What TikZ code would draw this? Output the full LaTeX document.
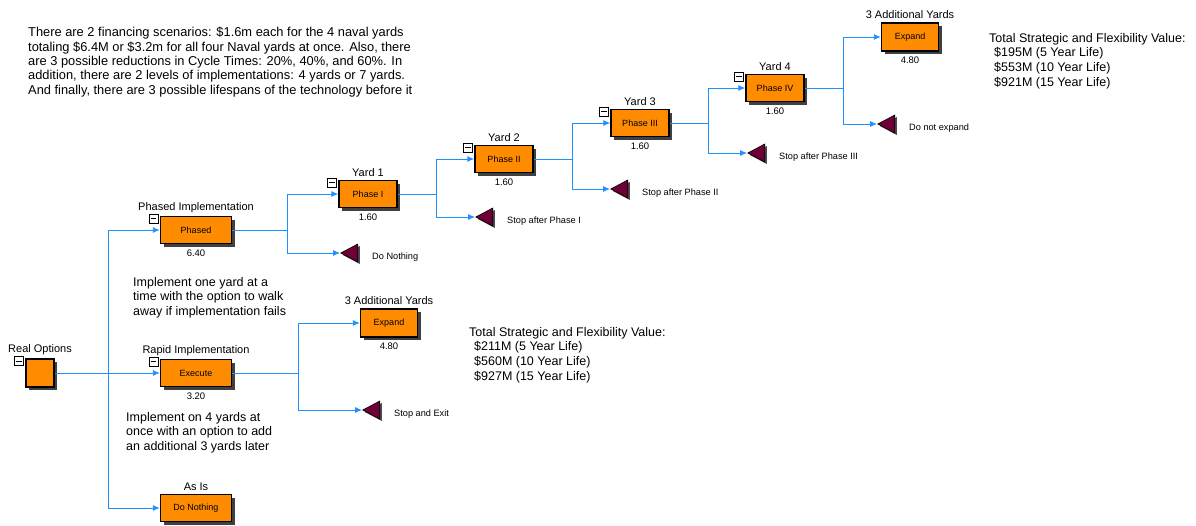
\documentclass[tikz,border=0pt]{standalone}
\usepackage{fontspec}
\setmainfont{Liberation Sans}
\usetikzlibrary{positioning,shapes.geometric,shadows,arrows.meta}

\definecolor{boxorange}{RGB}{255,140,0}
\definecolor{endmaroon}{RGB}{110,0,55}
\definecolor{linkblue}{RGB}{30,144,255}

\tikzset{
  decision/.style={draw=black, line width=1.4pt, fill=boxorange, minimum height=27pt,
    inner sep=0pt, font=\fontsize{9}{10}\selectfont,
    drop shadow={shadow xshift=3pt, shadow yshift=-3pt, fill=black!75, opacity=1}},
  terminal/.style={isosceles triangle, isosceles triangle stretches, shape border rotate=180,
    minimum width=18pt, minimum height=17pt, inner sep=0pt, anchor=apex,
    draw=black, line width=0.6pt, fill=endmaroon,
    drop shadow={shadow xshift=2pt, shadow yshift=-2pt, fill=black!70, opacity=1}},
  collapse/.style={draw=black, line width=0.5pt, fill=white, minimum size=9pt, inner sep=0pt,
    path picture={\draw[line width=0.6pt] ([xshift=1.8pt]path picture bounding box.west)
      -- ([xshift=-1.8pt]path picture bounding box.east);}},
  branch/.style={draw=linkblue, line width=0.9pt, -{Latex[length=7pt,width=6pt]}},
  stage/.style={font=\fontsize{11}{12}\selectfont, inner sep=1pt},
  value/.style={font=\fontsize{9.5}{11}\selectfont, inner sep=1pt},
  endtext/.style={font=\fontsize{9.2}{10}\selectfont, anchor=west, inner sep=0pt},
  note/.style={align=left, anchor=north west, inner sep=0pt, font=\fontsize{12.5}{14.6}\selectfont}
}

\begin{document}
\begin{tikzpicture}[x=1pt,y=-1pt]
\useasboundingbox (0,0) rectangle (1196,525);

% decision boxes
\node[decision, minimum width=28pt, minimum height=28pt] (root) at (40,373) {};
\node[decision, minimum width=71pt] (phased) at (196,230) {Phased};
\node[decision, minimum width=71pt] (exec) at (196,373) {Execute};
\node[decision, minimum width=71pt] (asis) at (196,508) {Do Nothing};
\node[decision, minimum width=58pt] (ph1) at (368,194) {Phase I};
\node[decision, minimum width=58pt] (ph2) at (504,159) {Phase II};
\node[decision, minimum width=58pt] (ph3) at (640,123) {Phase III};
\node[decision, minimum width=58pt] (ph4) at (775,88) {Phase IV};
\node[decision, minimum width=57pt, minimum height=28pt] (exp1) at (910,37) {Expand};
\node[decision, minimum width=57pt, minimum height=28pt] (exp2) at (389,323) {Expand};

% end points
\node[terminal] (dn) at (340,253) {};
\node[terminal] (sp1) at (475,217) {};
\node[terminal] (sp2) at (610,189) {};
\node[terminal] (sp3) at (747,153) {};
\node[terminal] (noexp) at (877,124) {};
\node[terminal] (stop) at (362,410) {};

% split points
\coordinate (s0) at (108,373);
\coordinate (s1) at (287,230);
\coordinate (s2) at (436,194);
\coordinate (s3) at (572,159);
\coordinate (s4) at (708,123);
\coordinate (s5) at (843,88);
\coordinate (s6) at (298,373);

\draw[branch] (root) -- (s0) |- (phased);
\draw[branch] (s0) -- (exec);
\draw[branch] (s0) |- (asis);
\foreach \a/\s/\b/\c in {phased/s1/ph1/dn, ph1/s2/ph2/sp1, ph2/s3/ph3/sp2,
    ph3/s4/ph4/sp3, ph4/s5/exp1/noexp, exec/s6/exp2/stop}{
  \draw[branch] (\a) -- (\s) |- (\b);
  \draw[branch] (\s) |- (\c);
}

% collapse marks
\foreach \b in {root,phased,exec,ph1,ph2,ph3,ph4}{
  \node[collapse] (\b-m) at ([xshift=-6.5pt,yshift=-2.5pt]\b.north west) {};
}

% labels and values
\foreach \b/\t in {root/Real Options, phased/Phased Implementation, exec/Rapid Implementation,
    asis/As Is, ph1/Yard 1, ph2/Yard 2, ph3/Yard 3, ph4/Yard 4,
    exp1/3 Additional Yards, exp2/3 Additional Yards}{
  \node[stage, above=2pt of \b] (\b-lbl) {\t};
}
\foreach \b/\t in {phased/6.40, exec/3.20, ph1/1.60, ph2/1.60, ph3/1.60, ph4/1.60,
    exp1/4.80, exp2/4.80}{
  \node[value, below=4pt of \b] (\b-val) {\t};
}
\foreach \c/\t in {dn/Do Nothing, sp1/Stop after Phase I, sp2/Stop after Phase II,
    sp3/Stop after Phase III, noexp/Do not expand, stop/Stop and Exit}{
  \node[endtext] (\c-txt) at ([xshift=32pt,yshift=-4pt]\c.apex) {\t};
}

% notes
\node[note, font=\fontsize{12.85}{14.4}\selectfont] (intro) at (28,27) {There are 2 financing scenarios: \$1.6m each for the 4 naval yards\\
  totaling \$6.4M or \$3.2m for all four Naval yards at once. Also, there\\
  are 3 possible reductions in Cycle Times: 20\%, 40\%, and 60\%. In\\
  addition, there are 2 levels of implementations: 4 yards or 7 yards.\\
  And finally, there are 3 possible lifespans of the technology before it};
\node[note] (phased-note) at (133,277) {Implement one yard at a\\
  time with the option to walk\\ away if implementation fails};
\node[note] (exec-note) at (126,412) {Implement on 4 yards at\\
  once with an option to add\\ an additional 3 yards later};
\node[note] (exec-total) at (469,327) {Total Strategic and Flexibility Value:\\
  \hspace{5pt}\$211M (5 Year Life)\\ \hspace{5pt}\$560M (10 Year Life)\\
  \hspace{5pt}\$927M (15 Year Life)};
\node[note] (phased-total) at (989,33) {Total Strategic and Flexibility Value:\\
  \hspace{5pt}\$195M (5 Year Life)\\ \hspace{5pt}\$553M (10 Year Life)\\
  \hspace{5pt}\$921M (15 Year Life)};
\end{tikzpicture}
\end{document}
